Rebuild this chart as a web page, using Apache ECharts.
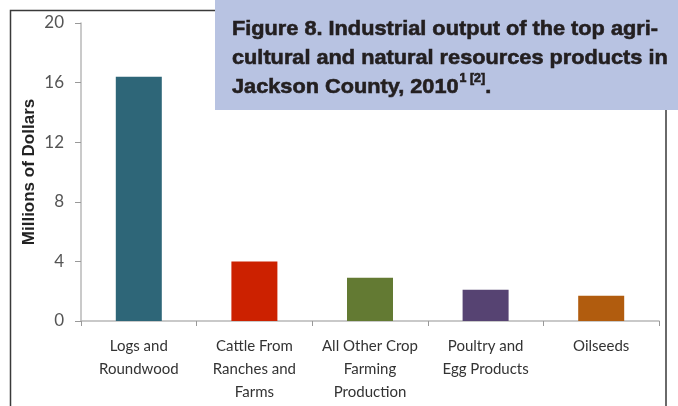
<!DOCTYPE html>
<html>
<head>
<meta charset="utf-8">
<style>
  html, body { margin: 0; padding: 0; background: #fff; }
  #chart { width: 678px; height: 406px; }
</style>
<script src="https://cdn.jsdelivr.net/npm/echarts@6/dist/echarts.min.js"></script>
</head>
<body>
<div id="chart"></div>
<script>
// Top agricultural and natural resources products, Jackson County, 2010
const categories = [
  'Logs and\nRoundwood',
  'Cattle From\nRanches and\nFarms',
  'All Other Crop\nFarming\nProduction',
  'Poultry and\nEgg Products',
  'Oilseeds'
];
const outputMillions = [16.4, 4.0, 2.9, 2.1, 1.7];
const barColors = ['#2e6678', '#cc2100', '#637a33', '#564372', '#b15c0e'];
const yTicks = { min: 0, max: 20, interval: 4 };

const titleLines = [
  'Figure 8. Industrial output of the top agri-',
  'cultural and natural resources products in',
  'Jackson County, 2010'
];

// Condensed heading: squeeze a bold sans face horizontally to a fixed line width
const titleFont = 'bold 21px "Liberation Sans"';
const measureCtx = document.createElement('canvas').getContext('2d');
measureCtx.font = titleFont;
const condense = 426 / measureCtx.measureText(titleLines[0]).width;

const titleText = titleLines[0] + '\n' + titleLines[1] + '\n' + titleLines[2] + '{sup|1 [2]}.';

const chart = echarts.init(document.getElementById('chart'), null, { renderer: 'canvas' });

chart.setOption({
  backgroundColor: '#ffffff',
  animation: false,
  graphic: [
    {
      type: 'rect', z: 0,
      shape: { x: 10.5, y: 10.5, width: 655.5, height: 420 },
      style: { fill: 'none', stroke: '#3a3a3a', lineWidth: 1.5 }
    },
    {
      type: 'rect', z: 1,
      shape: { x: 215, y: 0, width: 463, height: 110 },
      style: { fill: '#b8c3e2' }
    },
    {
      type: 'text', z: 2,
      x: 232, y: 15,
      scaleX: condense,
      style: {
        text: titleText,
        font: titleFont,
        lineHeight: 29,
        fill: '#231f20',
        stroke: '#231f20',
        lineWidth: 0.6,
        rich: {
          sup: {
            fontFamily: 'Liberation Sans',
            fontWeight: 'bold',
            fontSize: 12,
            fill: '#231f20',
            verticalAlign: 'top',
            padding: [0, 0, 10, 1]
          }
        }
      }
    }
  ],
  grid: { left: 81, right: 19, top: 23, bottom: 85, containLabel: false },
  xAxis: {
    type: 'category',
    data: categories,
    axisLine: { lineStyle: { color: '#b8b8b8', width: 1.5 } },
    axisTick: { show: true, length: 5, lineStyle: { color: '#999' } },
    axisLabel: {
      interval: 0,
      margin: 14,
      fontFamily: 'Lato',
      fontSize: 15,
      lineHeight: 23,
      color: '#333'
    }
  },
  yAxis: {
    type: 'value',
    min: yTicks.min, max: yTicks.max, interval: yTicks.interval,
    name: 'Millions of Dollars',
    nameLocation: 'middle',
    nameGap: 43,
    nameMoveOverlap: false,
    nameTextStyle: {
      fontFamily: 'Liberation Sans',
      fontWeight: 'bold',
      fontSize: 17,
      color: '#222'
    },
    axisLine: { show: true, lineStyle: { color: '#b8b8b8', width: 1.5 } },
    axisTick: { show: true, length: 6, lineStyle: { color: '#999' } },
    splitLine: { show: false },
    axisLabel: {
      margin: 17,
      fontFamily: 'Lato',
      fontSize: 17,
      color: '#555'
    }
  },
  series: [{
    type: 'bar',
    data: outputMillions.map((v, i) => ({ value: v, itemStyle: { color: barColors[i] } })),
    barWidth: 46
  }]
});
</script>
</body>
</html>
